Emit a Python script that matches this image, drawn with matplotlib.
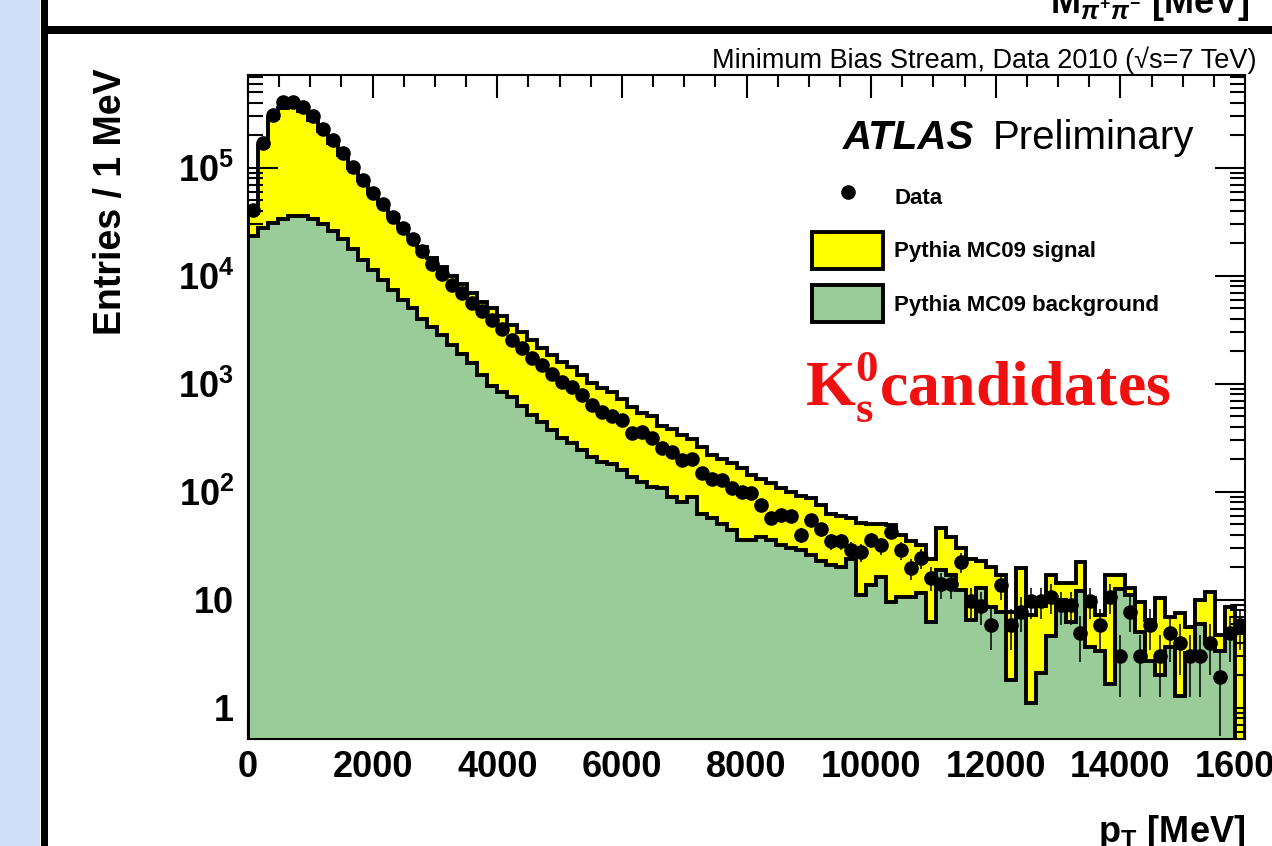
import matplotlib
matplotlib.use('Agg')
import matplotlib.pyplot as plt
import numpy as np
from matplotlib.patches import Rectangle
from matplotlib.ticker import LogLocator, MultipleLocator, NullFormatter

# 100 bins of 160 MeV between 0 and 16000 MeV
edges = np.linspace(0, 16000, 101)

data = [4.1e4, 1.7e5, 3.1e5, 4.1e5, 4.1e5, 3.7e5, 3.0e5, 2.3e5, 1.8e5, 1.37e5,
        1.03e5, 7.8e4, 5.9e4, 4.6e4, 3.5e4, 2.77e4, 2.18e4, 1.7e4, 1.3e4, 1.05e4,
        8.2e3, 6.9e3, 5.6e3, 4.7e3, 3.9e3, 3.2e3, 2.56e3, 2.14e3, 1.74e3, 1.5e3,
        1250, 1050, 944, 793, 638, 553, 500, 464, 350, 363,
        315, 253, 232, 196, 204, 150, 132, 129, 110, 100,
        97, 76, 57, 61, 60, 40, 55, 45, 35, 35,
        29, 28, 36, 32, 43, 29, 19.6, 24.5, 16, 14,
        14, 22.6, 9.8, 8.8, 5.9, 13.8, 5.9, 7.8, 9.8, 9.8,
        10.7, 8.9, 8.9, 4.9, 9.8, 5.9, 10.7, 3.0, 7.8, 3.0,
        5.9, 3.0, 4.9, 4.0, 3.0, 3.0, 4.0, 1.95, 4.9, 5.9]

# signal + background (top of the yellow histogram)
total = [3.8e4, 1.6e5, 2.9e5, 3.6e5, 3.7e5, 3.4e5, 2.8e5, 2.2e5, 1.72e5, 1.32e5,
         1.0e5, 7.7e4, 5.9e4, 4.7e4, 3.7e4, 2.9e4, 2.35e4, 1.85e4, 1.48e4, 1.2e4,
         1.0e4, 8.5e3, 6.9e3, 5.8e3, 5.1e3, 4.3e3, 3.5e3, 3.04e3, 2.56e3, 2.15e3,
         1850, 1610, 1450, 1200, 1020, 910, 850, 725, 610, 535,
         500, 410, 385, 340, 310, 262, 222, 202, 184, 168,
         145, 132, 120, 110, 100, 92, 88, 76, 62, 60,
         58, 52, 51, 50, 49, 40, 35, 32, 24, 46,
         38, 30, 24, 23, 20, 17, 7.8, 19.6, 7.2, 8.8,
         17, 14.5, 14.5, 22.6, 10.4, 7.3, 17, 17, 12.8, 9.6,
         6.5, 10.4, 7.0, 7.6, 5.6, 10, 11.9, 4.7, 8.7, 4.9]

background = [2.33e4, 2.78e4, 3.1e4, 3.4e4, 3.6e4, 3.6e4, 3.4e4, 3.0e4, 2.6e4, 2.2e4,
              1.77e4, 1.42e4, 1.14e4, 9.2e3, 7.4e3, 6.0e3, 5.0e3, 4.0e3, 3.4e3, 2.85e3,
              2.3e3, 1.9e3, 1.55e3, 1.22e3, 950, 850, 760, 620, 520, 448,
              375, 314, 282, 245, 213, 190, 183, 159, 139, 124,
              112, 108, 90, 81, 90, 63, 57, 51, 44.6, 36,
              36, 38.6, 36, 32, 30, 29, 26, 23, 21, 20,
              24, 11, 13.8, 16.4, 9.6, 10.7, 10.7, 11.5, 6.2, 19,
              17, 12.4, 6.5, 12.9, 8.6, 7.8, 1.8, 7.8, 1.1, 2.1,
              4.6, 10, 6.2, 12, 3.7, 3.4, 1.65, 12.6, 11, 5,
              2.7, 2.0, 3.7, 1.3, 3.2, 6, 4, 3.4, 4.5, 0]

xticks = [0, 2000, 4000, 6000, 8000, 10000, 12000, 14000, 16000]
xtick_labels = [str(t) for t in xticks]
yticks = [1, 10, 1e2, 1e3, 1e4, 1e5]
ytick_labels = ['1', '10', r'$10^{2}$', r'$10^{3}$', r'$10^{4}$', r'$10^{5}$']

plt.rcParams['font.family'] = ['Liberation Sans', 'DejaVu Sans']
plt.rcParams['mathtext.fontset'] = 'custom'
plt.rcParams['mathtext.rm'] = 'Liberation Sans:bold'
plt.rcParams['mathtext.it'] = 'Liberation Sans:bold:italic'
plt.rcParams['mathtext.bf'] = 'Liberation Sans:bold'
plt.rcParams['mathtext.sf'] = 'Liberation Serif:bold'

W, H = 1272, 846
fig = plt.figure(figsize=(W / 100, H / 100), dpi=100)

# slide decorations around the plot
fig.patches.append(Rectangle((0, 0), 40 / W, 1, transform=fig.transFigure,
                             facecolor='#cddff7', edgecolor='none'))
fig.patches.append(Rectangle((40.5 / W, 0), 7.5 / W, 1, transform=fig.transFigure,
                             facecolor='black', edgecolor='none'))
fig.patches.append(Rectangle((48 / W, 1 - 34 / H), 1 - 48 / W, 8 / H,
                             transform=fig.transFigure, facecolor='black', edgecolor='none'))

ax = fig.add_axes([248 / W, 1 - 739 / H, 997 / W, 664 / H])

centers = 0.5 * (edges[1:] + edges[:-1])
h_sig = ax.stairs(total, edges, baseline=1e-3, fill=True, facecolor='#ffff00',
                  edgecolor='black', linewidth=2.8, label='Pythia MC09 signal', zorder=1)
h_bkg = ax.stairs(background, edges, baseline=1e-3, fill=True, facecolor='#99cc99',
                  edgecolor='black', linewidth=2.8, label='Pythia MC09 background', zorder=2)
ax.errorbar(centers, data, yerr=np.sqrt(data), fmt='none', ecolor='black',
            elinewidth=1.1, capsize=0, zorder=3)
pts, = ax.plot(centers, data, 'o', color='black', markersize=9.5, label='Data', zorder=4)

ax.set_xlim(0, 16000)
ax.set_yscale('log')
ax.set_ylim(0.516, 7.26e5)

ax.set_xticks(xticks, labels=xtick_labels, fontsize=26, fontweight='bold')
ax.xaxis.set_minor_locator(MultipleLocator(500))
ax.set_yticks(yticks, labels=ytick_labels, fontsize=26, fontweight='bold')
ax.yaxis.set_minor_locator(LogLocator(base=10, subs=np.arange(2, 10)))
ax.yaxis.set_minor_formatter(NullFormatter())

ax.tick_params(which='both', direction='in', top=True, right=True, width=1.5)
ax.tick_params(axis='x', which='major', length=16.5, pad=8)
ax.tick_params(axis='x', which='minor', length=8.3)
ax.tick_params(axis='y', which='major', length=21.6, pad=10)
ax.tick_params(axis='y', which='minor', length=10.8)
for s in ax.spines.values():
    s.set_linewidth(1.5)

leg = ax.legend(handles=[pts, h_sig, h_bkg], loc='upper left',
                bbox_to_anchor=(812 / W, 1 - 179 / H), bbox_transform=fig.transFigure,
                frameon=False, prop={'size': 16, 'weight': 'bold'}, numpoints=1,
                handlelength=3.2, handleheight=2.15, handletextpad=0.5,
                labelspacing=0.75, borderpad=0, borderaxespad=0)

fig.text(111 / W, 1 - 68 / H, 'Entries / 1 MeV', rotation=90, ha='center', va='top',
         fontsize=27, fontweight='bold')
fig.text(1245 / W, 1 - 842 / H, r'p$_\mathrm{T}$ [MeV]', ha='right', va='baseline',
         fontsize=26, fontweight='bold')
fig.text(1250 / W, 1 - 13 / H, r'M$_{\pi^{+}\pi^{-}}$ [MeV]', ha='right', va='baseline',
         fontsize=26, fontweight='bold')
fig.text(1256 / W, 1 - 68 / H, 'Minimum Bias Stream, Data 2010 (\u221as=7 TeV)',
         ha='right', va='baseline', fontsize=19.5)
fig.text(843 / W, 1 - 149 / H, 'ATLAS', ha='left', va='baseline', fontsize=29,
         fontweight='bold', fontstyle='italic')
fig.text(993 / W, 1 - 149 / H, 'Preliminary', ha='left', va='baseline', fontsize=29)
fig.text(805 / W, 1 - 405 / H,
         r'$\mathsf{K}^{\mathsf{0}}_{\mathsf{s}}\mathsf{candidates}$',
         ha='left', va='baseline', fontsize=46, color='#f01010')

fig.savefig('out.png', dpi=100)
